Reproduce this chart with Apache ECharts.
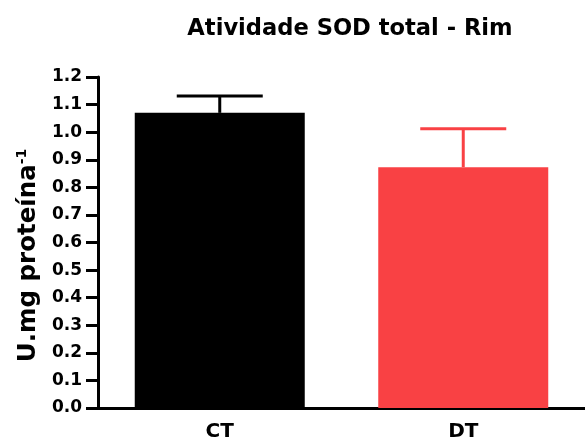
<!DOCTYPE html>
<html><head><meta charset="utf-8">
<script src="https://cdn.jsdelivr.net/npm/echarts@6/dist/echarts.min.js"></script>
<style>html,body{margin:0;padding:0;background:#fff}#c{width:585px;height:443px}</style>
</head><body><div id="c"></div>
<script>
var categories = ['CT', 'DT'];
var means = [1.07, 0.873];
var errTops = [1.131, 1.012];
var barColors = ['#000000', '#f94144'];
var yTicks = [0, 1.2, 0.1];

var chart = echarts.init(document.getElementById('c'));
var font = 'DejaVu Sans';
chart.setOption({
  animation: false,
  title: {text: 'Atividade SOD total - Rim', left: 345, top: 13, textAlign: 'center',
    textStyle: {fontFamily: font, fontWeight: 'bold', fontSize: 22.6, color: '#000'}},
  grid: {left: 98, top: 77, width: 494, height: 331},
  xAxis: {type: 'category', data: categories,
    axisLine: {lineStyle: {color: '#000', width: 3}},
    axisTick: {alignWithLabel: true, length: 5, lineStyle: {width: 3, color: '#000'}},
    axisLabel: {fontFamily: font, fontWeight: 'bold', fontSize: 20, color: '#000', margin: 14}},
  yAxis: {type: 'value', min: yTicks[0], max: yTicks[1], interval: yTicks[2],
    splitLine: {show: false},
    axisLine: {show: true, lineStyle: {color: '#000', width: 3}},
    axisTick: {show: true, length: 12, lineStyle: {width: 3, color: '#000'}},
    axisLabel: {fontFamily: font, fontWeight: 'bold', fontSize: 17, color: '#000', margin: 16,
      formatter: function (v) { return v.toFixed(1); }},
    name: '{m|U.mg proteína}{s|-1}', nameLocation: 'middle', nameRotate: 90, nameGap: 53,
    nameTextStyle: {padding: [0, 26, 0, 0], rich: {
      m: {fontFamily: font, fontSize: 24.5, color: '#000', fontWeight: 'bold'},
      s: {fontFamily: font, fontSize: 14, color: '#000', fontWeight: 'bold', padding: [0, 0, 12, 0], verticalAlign: 'top'}
    }}},
  series: [{
    type: 'bar', barWidth: 170,
    data: means.map(function (v, i) { return {value: v, itemStyle: {color: barColors[i]}}; }),
    z: 2
  }, {
    type: 'custom', z: 1, clip: false,
    data: categories.map(function (c, i) { return [i, means[i], errTops[i]]; }),
    renderItem: function (params, api) {
      var i = api.value(0);
      var p0 = api.coord([i, api.value(1)]);
      var p1 = api.coord([i, api.value(2)]);
      var col = barColors[i];
      var hw = 43;
      return {type: 'group', children: [
        {type: 'line', shape: {x1: p0[0], y1: p0[1], x2: p1[0], y2: p1[1]}, style: {stroke: col, lineWidth: 3}},
        {type: 'line', shape: {x1: p1[0] - hw, y1: p1[1], x2: p1[0] + hw, y2: p1[1]}, style: {stroke: col, lineWidth: 3}}
      ]};
    }
  }]
});
</script></body></html>
